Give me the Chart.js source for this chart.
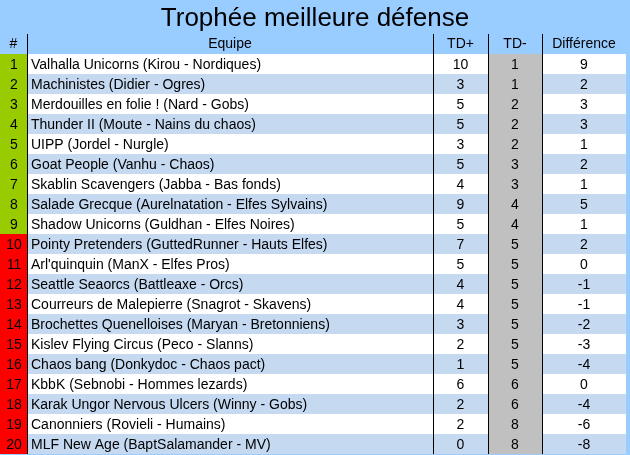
<!DOCTYPE html>
<html><head><meta charset="utf-8">
<script src="https://cdn.jsdelivr.net/npm/chart.js@4"></script>
<style>html,body{margin:0;padding:0;background:#99ccff;}canvas{display:block}</style>
</head><body>
<canvas id="c" width="630" height="455"></canvas>
<script>
const title = "Trophée meilleure défense";
const headers = ["#", "Equipe", "TD+", "TD-", "Différence"];
const ranks = [1,2,3,4,5,6,7,8,9,10,11,12,13,14,15,16,17,18,19,20];
const teams = [
"Valhalla Unicorns (Kirou - Nordiques)",
"Machinistes (Didier - Ogres)",
"Merdouilles en folie ! (Nard - Gobs)",
"Thunder II (Moute - Nains du chaos)",
"UIPP (Jordel - Nurgle)",
"Goat People (Vanhu - Chaos)",
"Skablin Scavengers (Jabba - Bas fonds)",
"Salade Grecque (Aurelnatation - Elfes Sylvains)",
"Shadow Unicorns (Guldhan - Elfes Noires)",
"Pointy Pretenders (GuttedRunner - Hauts Elfes)",
"Arl'quinquin (ManX - Elfes Pros)",
"Seattle Seaorcs (Battleaxe - Orcs)",
"Courreurs de Malepierre (Snagrot - Skavens)",
"Brochettes Quenelloises (Maryan - Bretonniens)",
"Kislev Flying Circus (Peco - Slanns)",
"Chaos bang (Donkydoc - Chaos pact)",
"KbbK (Sebnobi - Hommes lezards)",
"Karak Ungor Nervous Ulcers (Winny - Gobs)",
"Canonniers (Rovieli - Humains)",
"MLF New Age (BaptSalamander - MV)"];
const tdPlus = [10,3,5,5,3,5,4,9,5,7,5,4,4,3,2,1,6,2,2,0];
const tdMinus = [1,1,2,2,2,3,3,4,4,5,5,5,5,5,5,5,6,6,8,8];
const diff = [9,2,3,3,1,2,1,5,1,2,0,-1,-1,-2,-3,-4,0,-4,-6,-8];

const colEdges = [0, 27, 433, 488, 542, 626];
const FONT = '"Liberation Sans", Arial, sans-serif';

const tablePlugin = {
  id: 'table',
  beforeDatasetsDraw(chart) {
    const ctx = chart.ctx, y = chart.scales.y, a = chart.chartArea;
    const n = teams.length;
    const rh = (a.bottom - a.top) / n;
    ctx.save();
    // title
    ctx.fillStyle = '#000';
    ctx.font = '26px ' + FONT;
    ctx.textAlign = 'center'; ctx.textBaseline = 'middle';
    ctx.fillText(title, 315, 19);
    // header
    ctx.font = '14px ' + FONT;
    const hy = a.top - rh / 2 - 0;
    headers.forEach((h, j) => ctx.fillText(h, (colEdges[j] + colEdges[j+1]) / 2, hy));
    for (let i = 0; i < n; i++) {
      const cy = y.getPixelForValue(i);
      const top = cy - rh / 2;
      ctx.fillStyle = i % 2 === 0 ? '#ffffff' : '#c5d9f1';
      ctx.fillRect(colEdges[1], top, colEdges[5] - colEdges[1], rh);
      ctx.fillStyle = '#c0c0c0';
      ctx.fillRect(colEdges[3], top, colEdges[4] - colEdges[3], rh);
      ctx.fillStyle = ranks[i] <= 9 ? '#99cc00' : '#ff0000';
      ctx.fillRect(colEdges[0], top, colEdges[1] - colEdges[0], rh);
      ctx.fillStyle = '#000';
      ctx.font = '14px ' + FONT;
      ctx.textAlign = 'center';
      ctx.fillText(String(ranks[i]), 14, cy + 1);
      ctx.textAlign = 'left';
      ctx.fillText(teams[i], colEdges[1] + 4, cy + 1);
      ctx.textAlign = 'center';
      ctx.fillText(String(tdPlus[i]), (colEdges[2] + colEdges[3]) / 2, cy + 1);
      ctx.fillText(String(tdMinus[i]), (colEdges[3] + colEdges[4]) / 2, cy + 1);
      ctx.fillText(String(diff[i]), (colEdges[4] + colEdges[5]) / 2, cy + 1);
    }
    ctx.strokeStyle = '#000'; ctx.lineWidth = 1;
    [1,2,3,4].forEach(j => {
      ctx.beginPath();
      ctx.moveTo(colEdges[j] + 0.5, a.top - rh);
      ctx.lineTo(colEdges[j] + 0.5, a.bottom);
      ctx.stroke();
    });
    ctx.restore();
  }
};

new Chart(document.getElementById('c'), {
  type: 'bar',
  data: {
    labels: teams,
    datasets: [{ label: 'TD-', data: tdMinus, backgroundColor: 'rgba(0,0,0,0)' }]
  },
  options: {
    indexAxis: 'y',
    responsive: false,
    animation: false,
    layout: { padding: { top: 54, bottom: 1, left: 0, right: 4 } },
    plugins: { legend: { display: false }, tooltip: { enabled: false } },
    scales: {
      y: { display: false, offset: true },
      x: { display: false, min: 0, max: 10 }
    }
  },
  plugins: [tablePlugin]
});
</script>
</body></html>
